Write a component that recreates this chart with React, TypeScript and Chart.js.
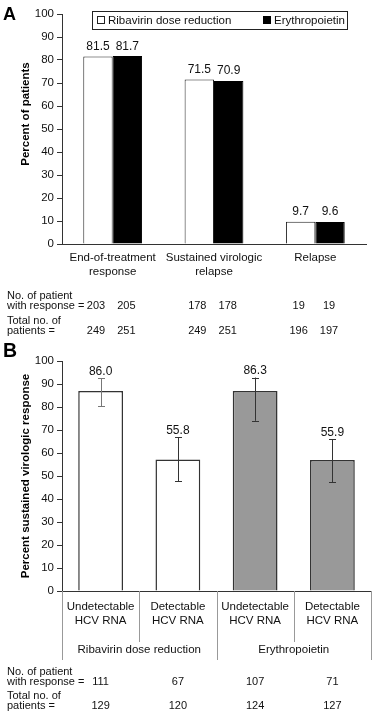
import React, { useEffect, useRef } from "react";
import { Chart, registerables } from "chart.js";
Chart.register(...registerables);

const FONT = "'Liberation Sans', Arial, Helvetica, sans-serif";

// ---------- Panel A data ----------
const categoriesA = [["End-of-treatment", "response"], ["Sustained virologic", "relapse"], ["Relapse"]];
const seriesNamesA = ["Ribavirin dose reduction", "Erythropoietin"];
const ribavirinA = [81.5, 71.5, 9.7];
const erythropoietinA = [81.7, 70.9, 9.6];
const ribavirinRespA = [203, 178, 19];
const erythropoietinRespA = [205, 178, 19];
const ribavirinTotalA = [249, 249, 196];
const erythropoietinTotalA = [251, 251, 197];

// ---------- Panel B data ----------
const categoriesB = [
  ["Undetectable", "HCV RNA"],
  ["Detectable", "HCV RNA"],
  ["Undetectable", "HCV RNA"],
  ["Detectable", "HCV RNA"],
];
const groupsB = ["Ribavirin dose reduction", "Erythropoietin"];
const svrB = [87.0, 57.2, 87.0, 57.0];
const svrLabelsB = ["86.0", "55.8", "86.3", "55.9"];
const errLowB = [80.3, 47.7, 74.0, 47.3];
const errHighB = [92.5, 66.8, 92.8, 66.0];
const respB = [111, 67, 107, 71];
const totalB = [129, 120, 124, 127];

const tableLabels = [["No. of patient", "with response ="], ["Total no. of", "patients ="]];

function yAxis(width: number) {
  return {
    min: 0,
    max: 100,
    ticks: { stepSize: 10, color: "#111", font: { family: FONT, size: 11.5 }, padding: 3 },
    grid: { display: true, drawOnChartArea: false, drawTicks: true, tickLength: 5, color: "#333" },
    border: { display: true, color: "#333", width: 1 },
    afterFit: (s: any) => {
      s.width = width;
    },
  };
}

function drawTableLabels(ctx: CanvasRenderingContext2D, rows: number[][]) {
  ctx.font = `11px ${FONT}`;
  ctx.textAlign = "left";
  ctx.textBaseline = "middle";
  ctx.fillStyle = "#111";
  rows.forEach((r, i) => {
    ctx.fillText(tableLabels[i][0], 7, r[0]);
    ctx.fillText(tableLabels[i][1], 7, r[1]);
  });
}

const plugA = {
  id: "plugA",
  afterDraw(chart: any) {
    const ctx = chart.ctx as CanvasRenderingContext2D;
    const ca = chart.chartArea;
    ctx.save();
    ctx.fillStyle = "#000";
    ctx.font = `bold 18px ${FONT}`;
    ctx.textAlign = "left";
    ctx.textBaseline = "alphabetic";
    ctx.fillText("A", 3, 20);

    ctx.save();
    ctx.translate(26, (ca.top + ca.bottom) / 2 - 15);
    ctx.rotate(-Math.PI / 2);
    ctx.font = `bold 11.5px ${FONT}`;
    ctx.textAlign = "center";
    ctx.textBaseline = "middle";
    ctx.fillText("Percent of patients", 0, 0);
    ctx.restore();

    // value labels
    ctx.font = `12px ${FONT}`;
    ctx.textAlign = "center";
    ctx.textBaseline = "alphabetic";
    ctx.fillStyle = "#111";
    chart.data.datasets.forEach((ds: any, i: number) => {
      const meta = chart.getDatasetMeta(i);
      meta.data.forEach((bar: any, j: number) => {
        ctx.fillText(Number(ds.data[j]).toFixed(1), bar.x, bar.y - 6.5);
      });
    });

    // legend
    ctx.strokeStyle = "#222";
    ctx.lineWidth = 1;
    ctx.fillStyle = "#fff";
    ctx.fillRect(92.5, 11.5, 255, 18);
    ctx.strokeRect(92.5, 11.5, 255, 18);
    ctx.fillStyle = "#fff";
    ctx.fillRect(97.5, 16.5, 7, 7);
    ctx.strokeRect(97.5, 16.5, 7, 7);
    ctx.fillStyle = "#000";
    ctx.fillRect(263, 16, 8, 8);
    ctx.font = `11.5px ${FONT}`;
    ctx.textAlign = "left";
    ctx.textBaseline = "middle";
    ctx.fillStyle = "#111";
    ctx.fillText(seriesNamesA[0], 108, 20.5);
    ctx.fillText(seriesNamesA[1], 274, 20.5);

    // table
    drawTableLabels(ctx, [[296, 306], [321, 331]]);
    ctx.textAlign = "center";
    const m0 = chart.getDatasetMeta(0);
    const m1 = chart.getDatasetMeta(1);
    for (let j = 0; j < categoriesA.length; j++) {
      ctx.fillText(String(ribavirinRespA[j]), m0.data[j].x - 2, 306);
      ctx.fillText(String(erythropoietinRespA[j]), m1.data[j].x - 1, 306);
      ctx.fillText(String(ribavirinTotalA[j]), m0.data[j].x - 2, 331);
      ctx.fillText(String(erythropoietinTotalA[j]), m1.data[j].x - 1, 331);
    }
    ctx.restore();
  },
};

const plugB = {
  id: "plugB",
  afterDatasetsDraw(chart: any) {
    const ctx = chart.ctx as CanvasRenderingContext2D;
    const ys = chart.scales.y;
    const meta = chart.getDatasetMeta(0);
    ctx.save();
    ctx.lineWidth = 1;
    meta.data.forEach((bar: any, j: number) => {
      const x = Math.round(bar.x) + 0.5;
      const yh = ys.getPixelForValue(errHighB[j]);
      const yl = ys.getPixelForValue(errLowB[j]);
      ctx.strokeStyle = j === 0 ? "#777" : "#333";
      ctx.beginPath();
      ctx.moveTo(x, yh);
      ctx.lineTo(x, yl);
      ctx.moveTo(x - 3.5, Math.round(yh) + 0.5);
      ctx.lineTo(x + 3.5, Math.round(yh) + 0.5);
      ctx.moveTo(x - 3.5, Math.round(yl) + 0.5);
      ctx.lineTo(x + 3.5, Math.round(yl) + 0.5);
      ctx.stroke();
    });
    ctx.restore();
  },
  afterDraw(chart: any) {
    const ctx = chart.ctx as CanvasRenderingContext2D;
    const ca = chart.chartArea;
    const xs = chart.scales.x;
    const ys = chart.scales.y;
    ctx.save();
    ctx.fillStyle = "#000";
    ctx.font = `bold 19.5px ${FONT}`;
    ctx.textAlign = "left";
    ctx.textBaseline = "alphabetic";
    ctx.fillText("B", 3, 17);

    ctx.save();
    ctx.translate(26, (ca.top + ca.bottom) / 2);
    ctx.rotate(-Math.PI / 2);
    ctx.font = `bold 11.5px ${FONT}`;
    ctx.textAlign = "center";
    ctx.textBaseline = "middle";
    ctx.fillText("Percent sustained virologic response", 0, 0);
    ctx.restore();

    // value labels above error bars
    ctx.font = `12px ${FONT}`;
    ctx.textAlign = "center";
    ctx.textBaseline = "alphabetic";
    ctx.fillStyle = "#111";
    const meta = chart.getDatasetMeta(0);
    meta.data.forEach((bar: any, j: number) => {
      ctx.fillText(svrLabelsB[j], bar.x, ys.getPixelForValue(errHighB[j]) - 3.5);
    });

    // dividers
    const n = categoriesB.length;
    const bounds: number[] = [ca.left];
    for (let i = 0; i < n - 1; i++) {
      bounds.push((xs.getPixelForValue(i) + xs.getPixelForValue(i + 1)) / 2);
    }
    bounds.push(ca.right);
    ctx.strokeStyle = "#999";
    ctx.lineWidth = 1;
    ctx.beginPath();
    bounds.forEach((b, i) => {
      const x = Math.round(b) + 0.5;
      const long = i % 2 === 0;
      ctx.moveTo(x, ca.bottom);
      ctx.lineTo(x, long ? 320 : 302);
    });
    ctx.stroke();

    // group labels
    ctx.font = `11.5px ${FONT}`;
    ctx.textBaseline = "middle";
    ctx.fillStyle = "#111";
    groupsB.forEach((g, i) => {
      ctx.fillText(g, (bounds[i * 2] + bounds[i * 2 + 2]) / 2, 310);
    });

    // table
    drawTableLabels(ctx, [[332, 342], [356, 366]]);
    ctx.textAlign = "center";
    for (let j = 0; j < n; j++) {
      const x = xs.getPixelForValue(j);
      ctx.fillText(String(respB[j]), x, 342);
      ctx.fillText(String(totalB[j]), x, 366);
    }
    ctx.restore();
  },
};

export default function App() {
  const refA = useRef<HTMLCanvasElement>(null);
  const refB = useRef<HTMLCanvasElement>(null);

  useEffect(() => {
    Chart.defaults.font.family = FONT;
    const chartA = new Chart(refA.current!, {
      type: "bar",
      data: {
        labels: categoriesA,
        datasets: [
          {
            label: seriesNamesA[0],
            data: ribavirinA,
            backgroundColor: "#ffffff",
            borderColor: "#222",
            borderWidth: 1,
            categoryPercentage: 0.58,
            barPercentage: 1,
          },
          {
            label: seriesNamesA[1],
            data: erythropoietinA,
            backgroundColor: "#000000",
            borderColor: "#000",
            borderWidth: 1,
            categoryPercentage: 0.58,
            barPercentage: 1,
          },
        ],
      },
      options: {
        responsive: false,
        animation: false,
        devicePixelRatio: 1,
        layout: { padding: { top: 14, right: 7, left: 0, bottom: 0 } },
        plugins: { legend: { display: false }, tooltip: { enabled: false } },
        scales: {
          x: {
            grid: { display: false, drawTicks: false },
            border: { display: true, color: "#333", width: 1 },
            ticks: { color: "#111", font: { family: FONT, size: 11.5 }, padding: 7, maxRotation: 0, autoSkip: false },
            afterFit: (s: any) => {
              s.height = 340 - 244;
            },
          },
          y: yAxis(62) as any,
        },
      },
      plugins: [plugA],
    });

    const chartB = new Chart(refB.current!, {
      type: "bar",
      data: {
        labels: categoriesB,
        datasets: [
          {
            label: "SVR",
            data: svrB,
            backgroundColor: ["#ffffff", "#ffffff", "#999999", "#999999"],
            borderColor: "#333",
            borderWidth: 1.5,
            categoryPercentage: 1,
            barPercentage: 0.58,
          },
        ],
      },
      options: {
        responsive: false,
        animation: false,
        devicePixelRatio: 1,
        layout: { padding: { top: 21, right: 2, left: 0, bottom: 0 } },
        plugins: { legend: { display: false }, tooltip: { enabled: false } },
        scales: {
          x: {
            grid: { display: false, drawTicks: false },
            border: { display: true, color: "#333", width: 1 },
            ticks: { color: "#111", font: { family: FONT, size: 11.5 }, padding: 9, maxRotation: 0, autoSkip: false },
            afterFit: (s: any) => {
              s.height = 373 - 251;
            },
          },
          y: yAxis(62) as any,
        },
      },
      plugins: [plugB],
    });

    return () => {
      chartA.destroy();
      chartB.destroy();
    };
  }, []);

  return (
    <div style={{ position: "absolute", left: 0, top: 0, width: 373, height: 713, background: "#fff" }}>
      <canvas ref={refA} width={373} height={340} style={{ position: "absolute", left: 0, top: 0, display: "block" }} />
      <canvas ref={refB} width={373} height={373} style={{ position: "absolute", left: 0, top: 340, display: "block" }} />
    </div>
  );
}
